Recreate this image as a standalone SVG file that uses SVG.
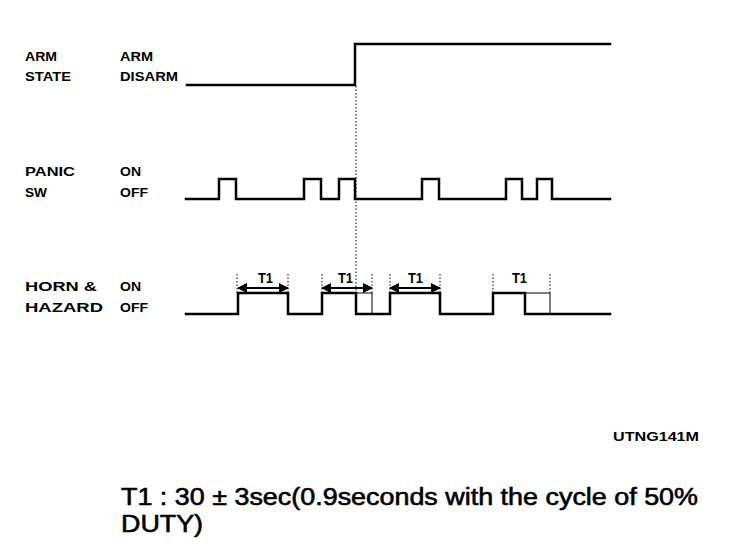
<svg xmlns="http://www.w3.org/2000/svg" width="736" height="552" viewBox="0 0 736 552">
<style>
.lbl{font-family:"Liberation Sans",Arial,sans-serif;font-weight:bold;font-size:13.5px;fill:#000}
.sig{fill:none;stroke:#000;stroke-width:2.5;stroke-linejoin:miter;stroke-linecap:square}
.thin{fill:none;stroke:#000;stroke-width:1}
.dot{fill:none;stroke:#000;stroke-width:1;stroke-dasharray:1.5 2}
.arr{stroke:#000;stroke-width:2;marker-start:url(#ah);marker-end:url(#ah)}
.t1{font-family:"Liberation Sans",Arial,sans-serif;font-weight:bold;font-size:14px;fill:#000}
.note{font-family:"Liberation Sans",Arial,sans-serif;font-size:23.5px;fill:#000;stroke:#000;stroke-width:0.6}
</style>
<defs>
<marker id="ah" viewBox="0 0 10 10" refX="9" refY="5" markerWidth="5.5" markerHeight="5" orient="auto-start-reverse" markerUnits="strokeWidth">
<path d="M0,0 L10,5 L0,10 z" fill="#000"/>
</marker>
</defs>
<rect width="736" height="552" fill="#fff"/>

<g id="arm-state">
<text class="lbl" x="25" y="61" textLength="32" lengthAdjust="spacingAndGlyphs">ARM</text>
<text class="lbl" x="25" y="81" textLength="46" lengthAdjust="spacingAndGlyphs">STATE</text>
<text class="lbl" x="120" y="61" textLength="33" lengthAdjust="spacingAndGlyphs">ARM</text>
<text class="lbl" x="120" y="81" textLength="58" lengthAdjust="spacingAndGlyphs">DISARM</text>
<path class="sig" d="M187,85 H355 V44 H610"/>
</g>

<g id="panic-sw">
<text class="lbl" x="25" y="176" textLength="50" lengthAdjust="spacingAndGlyphs">PANIC</text>
<text class="lbl" x="25" y="197" textLength="22" lengthAdjust="spacingAndGlyphs">SW</text>
<text class="lbl" x="120" y="176" textLength="21" lengthAdjust="spacingAndGlyphs">ON</text>
<text class="lbl" x="120" y="197" textLength="28" lengthAdjust="spacingAndGlyphs">OFF</text>
<path class="sig" d="M186,199 H219 V179 H236 V199 H304 V179 H321 V199 H339 V179 H355 V199 H422 V179 H439 V199 H506 V179 H522 V199 H537 V179 H552 V199 H610"/>
</g>

<g id="horn-hazard">
<text class="lbl" x="25" y="291" textLength="72" lengthAdjust="spacingAndGlyphs">HORN &amp;</text>
<text class="lbl" x="25" y="312" textLength="78" lengthAdjust="spacingAndGlyphs">HAZARD</text>
<text class="lbl" x="120" y="291" textLength="21" lengthAdjust="spacingAndGlyphs">ON</text>
<text class="lbl" x="120" y="312" textLength="28" lengthAdjust="spacingAndGlyphs">OFF</text>
<path class="sig" d="M186,314 H238 V293 H288 V314 H322 V293 H356 V314 H390 V293 H440 V314 H493 V293 H525 V314 H610"/>
<path class="thin" d="M356,293 H372 V314 M525,293 H550 V314"/>
</g>

<g id="connectors">
<path class="dot" d="M356,86 V314"/>
<path class="dot" d="M237,274 V293 M288,274 V293 M322,274 V293 M372,274 V293 M390,274 V293 M440,274 V293 M493,274 V293 M550,274 V293"/>
<line class="arr" x1="238" y1="288" x2="288" y2="288"/>
<line class="arr" x1="322" y1="288" x2="372" y2="288"/>
<line class="arr" x1="390" y1="288" x2="440" y2="288"/>
<text class="t1" x="258" y="283" textLength="15" lengthAdjust="spacingAndGlyphs">T1</text>
<text class="t1" x="338" y="283" textLength="15" lengthAdjust="spacingAndGlyphs">T1</text>
<text class="t1" x="408" y="283" textLength="15" lengthAdjust="spacingAndGlyphs">T1</text>
<text class="t1" x="512" y="283" textLength="15" lengthAdjust="spacingAndGlyphs">T1</text>
</g>

<text class="lbl" x="613" y="441" textLength="86" lengthAdjust="spacingAndGlyphs">UTNG141M</text>
<text class="note" x="121" y="505" textLength="577" lengthAdjust="spacingAndGlyphs">T1 : 30 ± 3sec(0.9seconds with the cycle of 50%</text>
<text class="note" x="121" y="532" textLength="82" lengthAdjust="spacingAndGlyphs">DUTY)</text>
</svg>
